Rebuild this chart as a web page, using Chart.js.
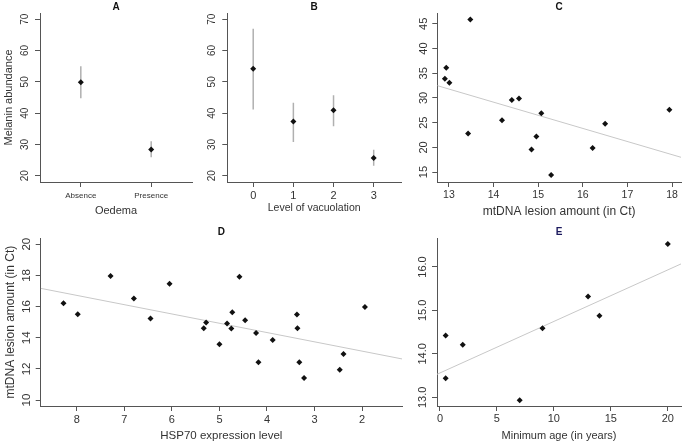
<!DOCTYPE html>
<html>
<head>
<meta charset="utf-8">
<title>Melanin, HSP70 and mtDNA lesion panels</title>
<script src="https://cdn.jsdelivr.net/npm/chart.js@4.4.1/dist/chart.umd.min.js"></script>
<style>
  html, body { margin: 0; padding: 0; background: #fff; }
  #figure { position: relative; width: 685px; height: 446px; overflow: hidden; }
  #figure canvas { position: absolute; }
</style>
</head>
<body>
<div id="figure">
  <canvas id="panelA"></canvas>
  <canvas id="panelB"></canvas>
  <canvas id="panelC"></canvas>
  <canvas id="panelD"></canvas>
  <canvas id="panelE"></canvas>
</div>
<script>
// A: melanin abundance by oedema (mean and interval)
const oedemaGroups = ['Absence', 'Presence'];
const oedemaMean = [49.9, 28.4];
const oedemaLow = [44.8, 25.9];
const oedemaHigh = [55.0, 31.0];

// B: melanin abundance by level of vacuolation
const vacuolationLevels = [0, 1, 2, 3];
const vacuolationMean = [54.2, 37.3, 40.9, 25.7];
const vacuolationLow = [41.2, 30.8, 35.8, 23.2];
const vacuolationHigh = [67.0, 43.3, 45.7, 28.3];

const melaninTicks = [20, 30, 40, 50, 60, 70];

// C: melanin abundance vs mtDNA lesion amount
const lesionC = [12.91, 12.94, 13.01, 13.43, 13.48, 14.19, 14.41, 14.57, 14.85, 14.96, 15.07, 15.29, 16.22, 16.50, 17.94];
const melaninC = [33.9, 36.1, 33.1, 22.8, 45.9, 25.5, 29.6, 29.9, 19.6, 22.2, 26.9, 14.4, 19.9, 24.8, 27.6];
const fitCX = [12.74, 18.2];
const fitCY = [32.5, 18.0];
const lesionTicksC = [13, 14, 15, 16, 17, 18];
const melaninTicksC = [15, 20, 25, 30, 35, 40, 45];

// D: mtDNA lesion amount vs HSP70 expression (reversed axis)
const hsp70 = [8.28, 7.98, 7.29, 6.80, 6.45, 6.05, 5.33, 5.28, 5.00, 4.84, 4.75, 4.73, 4.58, 4.46, 4.23, 4.18, 3.88, 3.37, 3.36, 3.32, 3.22, 2.47, 2.39, 1.94];
const lesionD = [16.21, 15.51, 17.96, 16.51, 15.23, 17.47, 14.61, 14.98, 13.59, 14.91, 14.59, 15.64, 17.92, 15.12, 14.31, 12.42, 13.85, 15.49, 14.61, 12.42, 11.42, 11.95, 12.95, 15.97];
const fitDX = [8.76, 1.16];
const fitDY = [17.17, 12.64];
const hspTicks = [2, 3, 4, 5, 6, 7, 8];
const lesionTicksD = [10, 12, 14, 16, 18, 20];

// E: mtDNA lesion amount vs minimum age
const minAge = [0.5, 0.5, 2, 7, 9, 13, 14, 20];
const lesionE = [14.42, 13.44, 14.21, 12.93, 14.59, 15.32, 14.88, 16.53];
const fitEX = [-0.26, 21.16];
const fitEY = [13.53, 16.07];
const ageTicks = [0, 5, 10, 15, 20];
const lesionTicksE = [13, 14, 15, 16];
const lesionLabelsE = ['13.0', '14.0', '15.0', '16.0'];

const FONT = "'Liberation Sans', Arial, sans-serif";
const AXIS = '#555555';
const TEXT = '#333333';
const POINT = '#111111';
const BAR = '#b0b0b0';
const FIT = '#c8c8c8';
const TITLE_H = 12; // 10px bold, lineHeight 1.2

function toPoints(xs, ys) {
  return xs.map((x, i) => ({ x: x, y: ys[i] }));
}

// vertical interval segments, broken by null points
function errorSegments(xs, lows, highs) {
  const pts = [];
  xs.forEach((x, i) => {
    pts.push({ x: x, y: lows[i] }, { x: x, y: highs[i] }, { x: x, y: null });
  });
  return pts;
}

function pointSet(data) {
  return {
    data: data,
    pointStyle: 'rectRot',
    pointRadius: 3,
    borderWidth: 0,
    backgroundColor: POINT,
    borderColor: POINT
  };
}

function lineSet(data, color, width) {
  return {
    data: data,
    showLine: true,
    pointRadius: 0,
    borderColor: color,
    borderWidth: width,
    spanGaps: false
  };
}

// R style y labels, rotated along the axis
function yLabelPlugin(labels, size, gap) {
  return {
    id: 'rotatedYLabels',
    afterDraw(chart) {
      const scale = chart.scales.y;
      const ctx = chart.ctx;
      ctx.save();
      ctx.fillStyle = TEXT;
      ctx.font = size + 'px ' + FONT;
      ctx.textAlign = 'center';
      ctx.textBaseline = 'middle';
      scale.ticks.forEach((tick, i) => {
        ctx.save();
        ctx.translate(scale.right - gap, scale.getPixelForValue(tick.value));
        ctx.rotate(-Math.PI / 2);
        ctx.fillText(labels[i], 0, 0);
        ctx.restore();
      });
      ctx.restore();
    }
  };
}

function makePanel(p) {
  const canvas = document.getElementById(p.id);
  canvas.width = p.box.w;
  canvas.height = p.box.h;
  canvas.style.left = p.box.x + 'px';
  canvas.style.top = p.box.y + 'px';

  const yWidth = p.plot.l - p.box.x;
  const xHeight = p.box.y + p.box.h - p.plot.b;
  const padTop = Math.max(0, p.plot.t - p.box.y - TITLE_H);
  const padRight = p.box.x + p.box.w - p.plot.r;

  const axisLines = {
    grid: { display: true, drawOnChartArea: false, drawTicks: true, tickLength: 5, color: AXIS, lineWidth: 1 },
    border: { display: true, color: AXIS, width: 1 }
  };

  return new Chart(canvas, {
    type: 'scatter',
    data: { datasets: p.datasets },
    options: {
      responsive: false,
      animation: false,
      events: [],
      layout: { padding: { left: 0, top: padTop, right: padRight, bottom: 0 } },
      plugins: {
        legend: { display: false },
        tooltip: { enabled: false },
        title: {
          display: true,
          text: p.title,
          color: p.titleColor || '#111',
          fullSize: false,
          padding: 0,
          font: { family: FONT, size: 10, weight: 'bold', lineHeight: 1.2 }
        }
      },
      scales: {
        x: {
          type: 'linear',
          min: p.x.min,
          max: p.x.max,
          reverse: !!p.x.reverse,
          afterBuildTicks: s => { s.ticks = p.x.ticks.map(v => ({ value: v })); },
          afterFit: s => { s.height = xHeight; s.paddingLeft = 0; s.paddingRight = 0; },
          grid: axisLines.grid,
          border: axisLines.border,
          ticks: {
            color: TEXT,
            autoSkip: false,
            maxRotation: 0,
            padding: p.x.pad,
            font: { family: FONT, size: p.x.size },
            callback: (v, i) => p.x.labels[i]
          },
          title: {
            display: true,
            text: p.x.title,
            color: TEXT,
            padding: { top: 0, bottom: p.x.titlePad },
            font: { family: FONT, size: p.x.titleSize, lineHeight: 1.2 }
          }
        },
        y: {
          type: 'linear',
          min: p.y.min,
          max: p.y.max,
          afterBuildTicks: s => { s.ticks = p.y.ticks.map(v => ({ value: v })); },
          afterFit: s => { s.width = yWidth; s.paddingTop = 0; s.paddingBottom = 0; },
          grid: axisLines.grid,
          border: axisLines.border,
          ticks: { display: false },
          title: {
            display: !!p.y.title,
            text: p.y.title || '',
            color: TEXT,
            padding: { top: p.y.titlePad || 0, bottom: 0 },
            font: { family: FONT, size: p.y.titleSize || 11, lineHeight: 1.2 }
          }
        }
      }
    },
    plugins: [yLabelPlugin(p.y.labels, p.y.size, p.y.gap)]
  });
}

const oedemaX = oedemaGroups.map((g, i) => i + 1);

makePanel({
  id: 'panelA', title: 'A',
  box: { x: 0, y: 0, w: 196, h: 222 },
  plot: { l: 40, t: 13, r: 193, b: 182 },
  x: { min: 0.42, max: 2.58, ticks: oedemaX, labels: oedemaGroups, size: 8, pad: 4, title: 'Oedema', titleSize: 11, titlePad: 4.4 },
  y: { min: 18, max: 72, ticks: melaninTicks, labels: melaninTicks.map(String), size: 10, gap: 15, title: 'Melanin abundance', titleSize: 11, titlePad: 2.4 },
  datasets: [
    pointSet(toPoints(oedemaX, oedemaMean)),
    lineSet(errorSegments(oedemaX, oedemaLow, oedemaHigh), BAR, 1.5)
  ]
});

makePanel({
  id: 'panelB', title: 'B',
  box: { x: 200, y: 0, w: 205, h: 222 },
  plot: { l: 227.3, t: 13, r: 401.7, b: 182 },
  x: { min: -0.645, max: 3.68, ticks: vacuolationLevels, labels: vacuolationLevels.map(String), size: 11, pad: 2, title: 'Level of vacuolation', titleSize: 10.5, titlePad: 8 },
  y: { min: 18, max: 72, ticks: melaninTicks, labels: melaninTicks.map(String), size: 10, gap: 15 },
  datasets: [
    pointSet(toPoints(vacuolationLevels, vacuolationMean)),
    lineSet(errorSegments(vacuolationLevels, vacuolationLow, vacuolationHigh), BAR, 1.5)
  ]
});

makePanel({
  id: 'panelC', title: 'C',
  box: { x: 405, y: 0, w: 280, h: 222 },
  plot: { l: 437.3, t: 13, r: 685, b: 182 },
  x: { min: 12.74, max: 18.2, ticks: lesionTicksC, labels: lesionTicksC.map(String), size: 10.5, pad: 2, title: 'mtDNA lesion amount (in Ct)', titleSize: 12, titlePad: 2.8 },
  y: { min: 13.0, max: 47.2, ticks: melaninTicksC, labels: melaninTicksC.map(String), size: 11, gap: 13.3 },
  datasets: [
    pointSet(toPoints(lesionC, melaninC)),
    lineSet(toPoints(fitCX, fitCY), FIT, 1)
  ]
});

makePanel({
  id: 'panelD', title: 'D',
  box: { x: 0, y: 225, w: 406, h: 221 },
  plot: { l: 40.7, t: 238.3, r: 402.7, b: 406 },
  x: { min: 1.16, max: 8.76, reverse: true, ticks: hspTicks, labels: hspTicks.map(String), size: 11, pad: 2, title: 'HSP70 expression level', titleSize: 11.5, titlePad: 3.6 },
  y: { min: 9.62, max: 20.38, ticks: lesionTicksD, labels: lesionTicksD.map(String), size: 11.5, gap: 13.7, title: 'mtDNA lesion amount (in Ct)', titleSize: 12, titlePad: 3.8 },
  datasets: [
    pointSet(toPoints(hsp70, lesionD)),
    lineSet(toPoints(fitDX, fitDY), FIT, 1)
  ]
});

makePanel({
  id: 'panelE', title: 'E', titleColor: '#1c1a5e',
  box: { x: 405, y: 225, w: 280, h: 221 },
  plot: { l: 437, t: 238.3, r: 685, b: 406 },
  x: { min: -0.26, max: 21.16, ticks: ageTicks, labels: ageTicks.map(String), size: 11, pad: 1.5, title: 'Minimum age (in years)', titleSize: 11, titlePad: 3.4 },
  y: { min: 12.8, max: 16.66, ticks: lesionTicksE, labels: lesionLabelsE, size: 11, gap: 14 },
  datasets: [
    pointSet(toPoints(minAge, lesionE)),
    lineSet(toPoints(fitEX, fitEY), FIT, 1)
  ]
});
</script>
</body>
</html>
